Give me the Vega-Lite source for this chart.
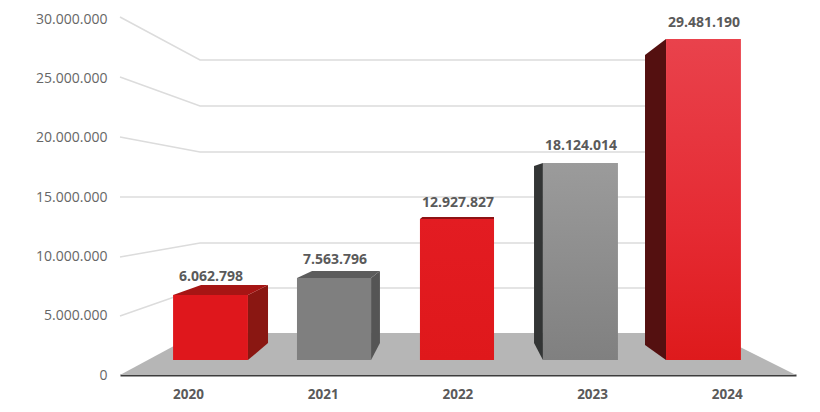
{"$schema":"https://vega.github.io/schema/vega-lite/v6.json","width":676,"height":356,"autosize":"none","padding":{"left":120,"right":24,"top":19,"bottom":37},"background":"#ffffff","config":{"view":{"stroke":null},"font":"Open Sans"},
"datasets":{
"floor":[{"x":2019.495,"top":0,"bottom":0},{"x":2020.074,"top":3539340,"bottom":0},{"x":2023.89,"top":3539340,"bottom":0},{"x":2024.514,"top":0,"bottom":0}],
"grid":[
{"level":30000000,"x":2019.495,"top":30168660},{"level":30000000,"x":2020.089,"top":26545050},{"level":30000000,"x":2023.504,"top":26545050},
{"level":25000000,"x":2019.495,"top":25112460},{"level":25000000,"x":2020.089,"top":22668630},{"level":25000000,"x":2023.504,"top":22668630},
{"level":20000000,"x":2019.495,"top":20056260},{"level":20000000,"x":2020.089,"top":18792210},{"level":20000000,"x":2023.504,"top":18792210},
{"level":15000000,"x":2019.495,"top":15000060},{"level":15000000,"x":2020.089,"top":15000060},{"level":15000000,"x":2023.504,"top":15000060},
{"level":10000000,"x":2019.495,"top":9943860},{"level":10000000,"x":2020.089,"top":11123640},{"level":10000000,"x":2023.504,"top":11123640},
{"level":5000000,"x":2019.495,"top":4971930},{"level":5000000,"x":2020.089,"top":7331490},{"level":5000000,"x":2023.504,"top":7331490}],
"faces":[
{"part":"2020 side","x":2020.445,"top":6741600,"bottom":1264050},{"part":"2020 side","x":2020.594,"top":7584300,"bottom":2696640},
{"part":"2020 cap","x":2019.889,"top":6741600,"bottom":6741600},{"part":"2020 cap","x":2020.097,"top":7584300,"bottom":6741600},{"part":"2020 cap","x":2020.445,"top":7584300,"bottom":6741600},{"part":"2020 cap","x":2020.594,"top":7584300,"bottom":7584300},
{"part":"2021 side","x":2021.359,"top":8174190,"bottom":1264050},{"part":"2021 side","x":2021.425,"top":8764080,"bottom":2696640},
{"part":"2021 cap","x":2020.809,"top":8174190,"bottom":8174190},{"part":"2021 cap","x":2020.921,"top":8764080,"bottom":8174190},{"part":"2021 cap","x":2021.359,"top":8764080,"bottom":8174190},{"part":"2021 cap","x":2021.425,"top":8764080,"bottom":8764080},
{"part":"2022 cap","x":2021.722,"top":13146120,"bottom":13146120},{"part":"2022 cap","x":2021.74,"top":13314660,"bottom":13146120},{"part":"2022 cap","x":2022.272,"top":13314660,"bottom":13146120},
{"part":"2023 side","x":2022.569,"top":17612430,"bottom":2696640},{"part":"2023 side","x":2022.635,"top":17865240,"bottom":1264050},
{"part":"2024 side","x":2023.393,"top":26966400,"bottom":2528100},{"part":"2024 side","x":2023.549,"top":28314720,"bottom":1264050}],
"bars":[
{"year":2020,"x":2019.889,"x2":2020.445,"top":6741600,"bottom":1264050},
{"year":2021,"x":2020.809,"x2":2021.359,"top":8174190,"bottom":1264050},
{"year":2022,"x":2021.722,"x2":2022.272,"top":13146120,"bottom":1264050},
{"year":2023,"x":2022.635,"x2":2023.192,"top":17865240,"bottom":1264050},
{"year":2024,"x":2023.549,"x2":2024.105,"top":28314720,"bottom":1264050}],
"labels":[
{"year":2020,"label":"6.062.798","x":2020.171,"top":8258460},
{"year":2021,"label":"7.563.796","x":2021.091,"top":9691050},
{"year":2022,"label":"12.927.827","x":2022.004,"top":14494440},
{"year":2023,"label":"18.124.014","x":2022.918,"top":19297830},
{"year":2024,"label":"29.481.190","x":2023.831,"top":29663040}]
},
"encoding":{
"x":{"field":"x","type":"quantitative","scale":{"domain":[2019.495,2024.514],"nice":false,"zero":false},"axis":{"title":null,"values":[2020,2021,2022,2023,2024],"format":"d","grid":false,"ticks":false,"domain":true,"domainColor":"#3c3c3c","domainWidth":2,"labelFont":"Open Sans","labelFontSize":13.5,"labelFontWeight":"bold","labelColor":"#5a5a5a","labelPadding":12,"labelFlush":false}},
"y":{"field":"top","type":"quantitative","scale":{"domain":[0,30000000],"nice":false},"axis":{"title":null,"values":[0,5000000,10000000,15000000,20000000,25000000,30000000],"labelExpr":"replace(format(datum.value,','),/,/g,'.')","grid":false,"ticks":false,"domain":false,"labelFont":"Open Sans","labelFontSize":14,"labelColor":"#666666","labelPadding":13}}
},
"layer":[
{"data":{"name":"floor"},"mark":{"type":"area","orient":"vertical","color":"#b6b6b6"},"encoding":{"y2":{"field":"bottom"}}},
{"data":{"name":"grid"},"mark":{"type":"line","color":"#dcdcdc","strokeWidth":1.5},"encoding":{"detail":{"field":"level"}}},
{"data":{"name":"faces"},"mark":{"type":"area","orient":"vertical"},"encoding":{"y2":{"field":"bottom"},"color":{"field":"part","type":"nominal","legend":null,"scale":{"domain":["2020 side","2020 cap","2021 side","2021 cap","2022 cap","2023 side","2024 side"],"range":["#8a1712","#a61514","#555555","#5c5c5c","#8e1214","#333535","#541010"]}}}},
{"data":{"name":"bars"},"transform":[{"filter":"datum.year==2020"}],"mark":{"type":"rect","color":"#df171c"},"encoding":{"x2":{"field":"x2"},"y2":{"field":"bottom"}}},
{"data":{"name":"bars"},"transform":[{"filter":"datum.year==2021"}],"mark":{"type":"rect","color":"#7f7f7f"},"encoding":{"x2":{"field":"x2"},"y2":{"field":"bottom"}}},
{"data":{"name":"bars"},"transform":[{"filter":"datum.year==2022"}],"mark":{"type":"rect","color":{"gradient":"linear","x1":0,"y1":0,"x2":0,"y2":1,"stops":[{"offset":0,"color":"#e31c22"},{"offset":1,"color":"#df181b"}]}},"encoding":{"x2":{"field":"x2"},"y2":{"field":"bottom"}}},
{"data":{"name":"bars"},"transform":[{"filter":"datum.year==2023"}],"mark":{"type":"rect","color":{"gradient":"linear","x1":0,"y1":0,"x2":0,"y2":1,"stops":[{"offset":0,"color":"#9b9b9b"},{"offset":1,"color":"#808080"}]}},"encoding":{"x2":{"field":"x2"},"y2":{"field":"bottom"}}},
{"data":{"name":"bars"},"transform":[{"filter":"datum.year==2024"}],"mark":{"type":"rect","color":{"gradient":"linear","x1":0,"y1":0,"x2":0,"y2":1,"stops":[{"offset":0,"color":"#e9424c"},{"offset":0.6,"color":"#e52a32"},{"offset":1,"color":"#de1a1c"}]}},"encoding":{"x2":{"field":"x2"},"y2":{"field":"bottom"}}},
{"data":{"name":"labels"},"mark":{"type":"text","font":"Open Sans","fontSize":14,"fontWeight":"bold","color":"#5a5a5a","align":"center","baseline":"middle"},"encoding":{"text":{"field":"label"}}}
]}
